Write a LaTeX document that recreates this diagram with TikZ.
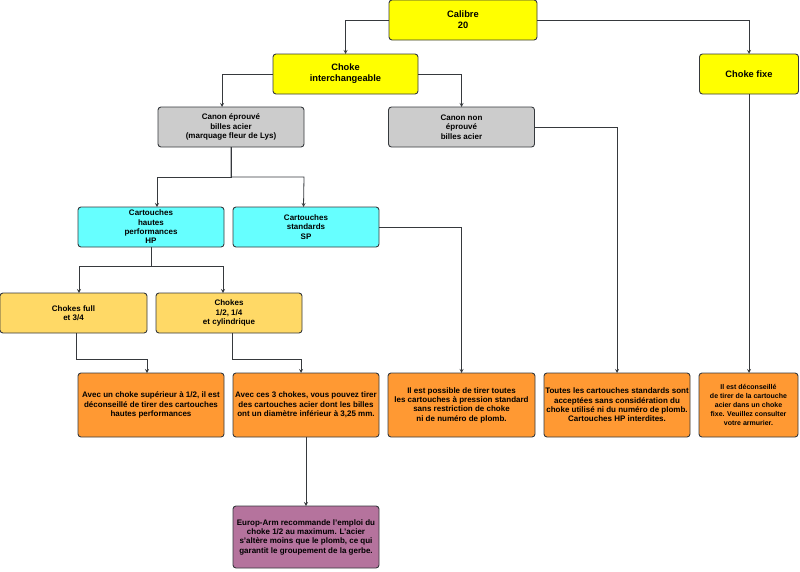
\documentclass[tikz,border=0pt]{standalone}
\usepackage{fontspec}
\setmainfont{Liberation Sans}
\usetikzlibrary{arrows, positioning}
\definecolor{caliyellow}{HTML}{FFFF00}
\definecolor{canongray}{HTML}{CCCCCC}
\definecolor{cartcyan}{HTML}{66FFFF}
\definecolor{chokegold}{HTML}{FFD966}
\definecolor{resorange}{HTML}{FF9933}
\definecolor{notepurple}{HTML}{B5739D}
\definecolor{edgegray}{HTML}{36393D}
\tikzstyle{box} = [rectangle, rounded corners=3pt, minimum width=146pt, minimum height=40pt, align=center, draw=edgegray, line width=0.9pt, outer sep=0pt, inner sep=1pt, font=\fontsize{8}{9.3}\selectfont\bfseries]
\tikzstyle{calibox} = [box, fill=caliyellow, font=\fontsize{9.3}{11}\selectfont\bfseries]
\tikzstyle{canonbox} = [box, fill=canongray]
\tikzstyle{cartbox} = [box, fill=cartcyan]
\tikzstyle{chokebox} = [box, fill=chokegold]
\tikzstyle{resbox} = [box, fill=resorange, minimum height=64pt]
\tikzstyle{notebox} = [box, fill=notepurple, minimum height=62pt]
\tikzstyle{arrow} = [draw=edgegray, line width=0.8pt, ->, >=stealth]

\begin{document}
\begin{tikzpicture}[x=1pt, y=-1pt]
\useasboundingbox (0,0) rectangle (800,571);

\node (calibre) [calibox, minimum width=148pt] at (463,20) {Calibre\\20};

\node (chokeint) [calibox, minimum width=145pt] at (345.5,74) {Choke\\interchangeable};
\node (chokefixe) [calibox, minimum width=99pt] at (749,74) {Choke fixe};

\node (canonep) [canonbox] at (231,127) {Canon éprouvé\\billes acier\\(marquage fleur de Lys)};
\node (canonnon) [canonbox] at (461.5,127) {Canon non\\éprouvé\\billes acier};

\node (hp) [cartbox] at (151,227) {Cartouches\\hautes\\performances\\HP};
\node (sp) [cartbox, right=9pt of hp] {Cartouches\\standards\\SP};

\node (chokesfull) [chokebox, minimum width=147pt] at (73.5,313) {Chokes full\\et 3/4};
\node (chokesdemi) [chokebox, right=9pt of chokesfull] {Chokes\\1/2, 1/4\\et cylindrique};

\node (avecun) [resbox] at (151,405) {Avec un choke supérieur à 1/2, il est\\déconseillé de tirer des cartouches\\hautes performances};
\node (avecces) [resbox, right=9pt of avecun] {Avec ces 3 chokes, vous pouvez tirer\\des cartouches acier dont les billes\\ont un diamètre inférieur à 3,25 mm.};
\node (possible) [resbox, minimum width=147pt, right=9pt of avecces] {Il est possible de tirer toutes\\les cartouches à pression standard\\sans restriction de choke\\ni de numéro de plomb.};
\node (toutes) [resbox, right=9pt of possible] {Toutes les cartouches standards sont\\acceptées sans considération du\\choke utilisé ni du numéro de plomb.\\Cartouches HP interdites.};
\node (deconseille) [resbox, minimum width=99pt, right=9pt of toutes, font=\fontsize{7}{9}\selectfont\bfseries] {Il est déconseillé\\de tirer de la cartouche\\acier dans un choke\\fixe. Veuillez consulter\\votre armurier.};

\node (europ) [notebox, below=69pt of avecces] {Europ-Arm recommande l'emploi du\\choke 1/2 au maximum. L'acier\\s'altère moins que le plomb, ce qui\\garantit le groupement de la gerbe.};

\draw [arrow] (calibre.west) -| (chokeint.north);
\draw [arrow] (calibre.east) -| (chokefixe.north);
\draw [arrow] (chokeint.west) -| ([xshift=-9pt]canonep.north);
\draw [arrow] (chokeint.east) -| (canonnon.north);
\draw [arrow] (canonep.south) |- (157,177) -- ([xshift=6pt]hp.north);
\draw [arrow] (canonep.south) |- (304,177) -- ([xshift=-2.5pt]sp.north);
\draw [arrow] (canonnon.east) -| (toutes.north);
\draw [arrow] (chokefixe.south) -- (chokefixe.south |- deconseille.north);
\draw [arrow] (sp.east) -| (possible.north);
\draw [arrow] (hp.south) |- (79,266) -- ([xshift=5.5pt]chokesfull.north);
\draw [arrow] (hp.south) |- (223,266) -- ([xshift=-6pt]chokesdemi.north);
\draw [arrow] ([xshift=2.5pt]chokesfull.south) |- (147,359) -- ([xshift=-4pt]avecun.north);
\draw [arrow] ([xshift=3pt]chokesdemi.south) |- (301,359) -- ([xshift=-5pt]avecces.north);
\draw [arrow] (avecces.south) -- (europ.north);

\end{tikzpicture}
\end{document}
